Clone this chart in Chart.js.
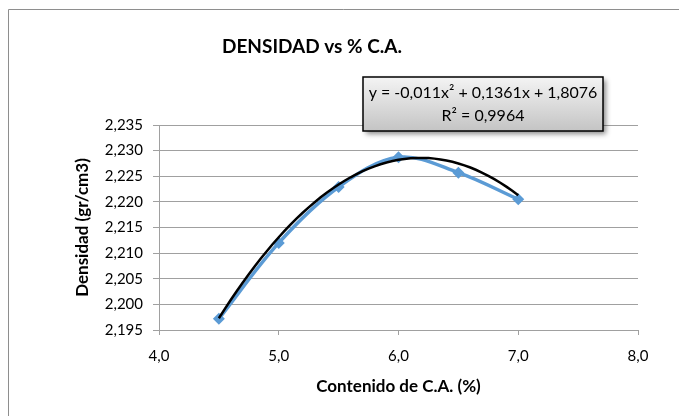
<!DOCTYPE html>
<html>
<head>
<meta charset="utf-8">
<script src="https://cdn.jsdelivr.net/npm/chart.js@4.4.0/dist/chart.umd.min.js"></script>
<style>
  body { margin: 0; background: #fff; }
  #grafico { display: block; }
</style>
</head>
<body>
<canvas id="grafico" width="679" height="416"></canvas>
<script>
// datos
const contenidoCA = [4.5, 5.0, 5.5, 6.0, 6.5, 7.0];
const densidad = [2.1972, 2.2120, 2.2229, 2.2287, 2.2257, 2.2205];
// coeficientes de la linea de tendencia (y = a x^2 + b x + c)
const coefTendencia = [-0.011, 0.1361, 1.8076];
const ecuacionTexto = ['y = -0,011x\u00b2 + 0,1361x + 1,8076', 'R\u00b2 = 0,9964'];
const tituloGrafico = 'DENSIDAD vs % C.A.';
const tituloX = 'Contenido de C.A. (%)';
const tituloY = 'Densidad (gr/cm3)';

const fuente = 'Lato, "Liberation Sans", sans-serif';
const gris = '#a0a0a0';

let tendencia = [];
for (let i = 0; i <= 50; i++) {
  let x = contenidoCA[0] + (contenidoCA[contenidoCA.length - 1] - contenidoCA[0]) * i / 50;
  tendencia.push({ x: x, y: coefTendencia[0] * x * x + coefTendencia[1] * x + coefTendencia[2] });
}

let puntos = [];
for (let i = 0; i < contenidoCA.length; i++) {
  puntos.push({ x: contenidoCA[i], y: densidad[i] });
}

// fondo, marco, titulo y cuadro de la ecuacion
const extras = {
  id: 'extras',
  beforeDraw(chart) {
    const c = chart.ctx;
    c.save();
    c.fillStyle = '#fff';
    c.fillRect(0, 0, chart.width, chart.height);
    c.strokeStyle = '#8e8e8e';
    c.lineWidth = 1;
    c.beginPath();
    c.moveTo(8.5, chart.height);
    c.lineTo(8.5, 9.5);
    c.lineTo(chart.width, 9.5);
    c.stroke();
    c.restore();
  },
  afterDraw(chart) {
    const c = chart.ctx;
    c.save();
    c.fillStyle = '#000';
    c.font = 'bold 19px ' + fuente;
    c.textAlign = 'center';
    c.textBaseline = 'middle';
    c.fillText(tituloGrafico, 312, 47);

    // cuadro de la ecuacion
    let bx = 363, by = 77, bw = 240, bh = 54;
    c.shadowColor = 'rgba(0,0,0,0.45)';
    c.shadowBlur = 5;
    c.shadowOffsetX = 3;
    c.shadowOffsetY = 3;
    let grad = c.createLinearGradient(0, by, 0, by + bh);
    grad.addColorStop(0, '#f4f4f4');
    grad.addColorStop(1, '#c4c4c4');
    c.fillStyle = grad;
    c.fillRect(bx, by, bw, bh);
    c.shadowColor = 'transparent';
    c.strokeStyle = '#000';
    c.lineWidth = 1.5;
    c.strokeRect(bx, by, bw, bh);
    c.fillStyle = '#000';
    c.font = '16px ' + fuente;
    c.fillText(ecuacionTexto[0], bx + bw / 2, by + 16);
    c.fillText(ecuacionTexto[1], bx + bw / 2, by + 39);
    c.restore();
  }
};

const ctx = document.getElementById('grafico').getContext('2d');
const grafico = new Chart(ctx, {
  type: 'scatter',
  data: {
    datasets: [
      {
        label: 'tendencia',
        data: tendencia,
        showLine: true,
        borderColor: '#000',
        borderWidth: 2.5,
        pointRadius: 0,
        tension: 0,
        order: 0
      },
      {
        label: 'densidad',
        data: puntos,
        showLine: true,
        borderColor: '#5B9BD5',
        backgroundColor: '#5B9BD5',
        borderWidth: 3.5,
        tension: 0.35,
        pointStyle: 'rectRot',
        pointRadius: 6,
        pointBorderWidth: 0,
        order: 1
      }
    ]
  },
  options: {
    responsive: false,
    animation: false,
    layout: { padding: { left: 68, top: 125, right: 41, bottom: 18 } },
    plugins: {
      legend: { display: false },
      tooltip: { enabled: false }
    },
    scales: {
      x: {
        type: 'linear',
        min: 4,
        max: 8,
        ticks: {
          stepSize: 1,
          padding: 12,
          color: '#000',
          font: { family: fuente, size: 15 },
          callback: (v) => v.toFixed(1).replace('.', ',')
        },
        grid: { drawOnChartArea: false, drawTicks: true, tickLength: 5, color: gris },
        border: { color: gris, width: 1 },
        title: {
          display: true,
          text: tituloX,
          color: '#000',
          font: { family: fuente, size: 17, weight: 'bold' },
          padding: { top: 4, bottom: 1 }
        },
        afterFit(scale) { scale.height = 416 - 330 - 18; }
      },
      y: {
        min: 2.195,
        max: 2.235,
        ticks: {
          stepSize: 0.005,
          padding: 10,
          color: '#000',
          font: { family: fuente, size: 15 },
          callback: (v) => v.toFixed(3).replace('.', ',')
        },
        grid: { color: gris, tickLength: 6 },
        border: { color: gris, width: 1 },
        title: {
          display: true,
          text: tituloY,
          color: '#000',
          font: { family: fuente, size: 17, weight: 'bold' },
          padding: { top: 4, bottom: 4 }
        },
        afterFit(scale) { scale.width = 159 - 68; }
      }
    }
  },
  plugins: [extras]
});
</script>
</body>
</html>
